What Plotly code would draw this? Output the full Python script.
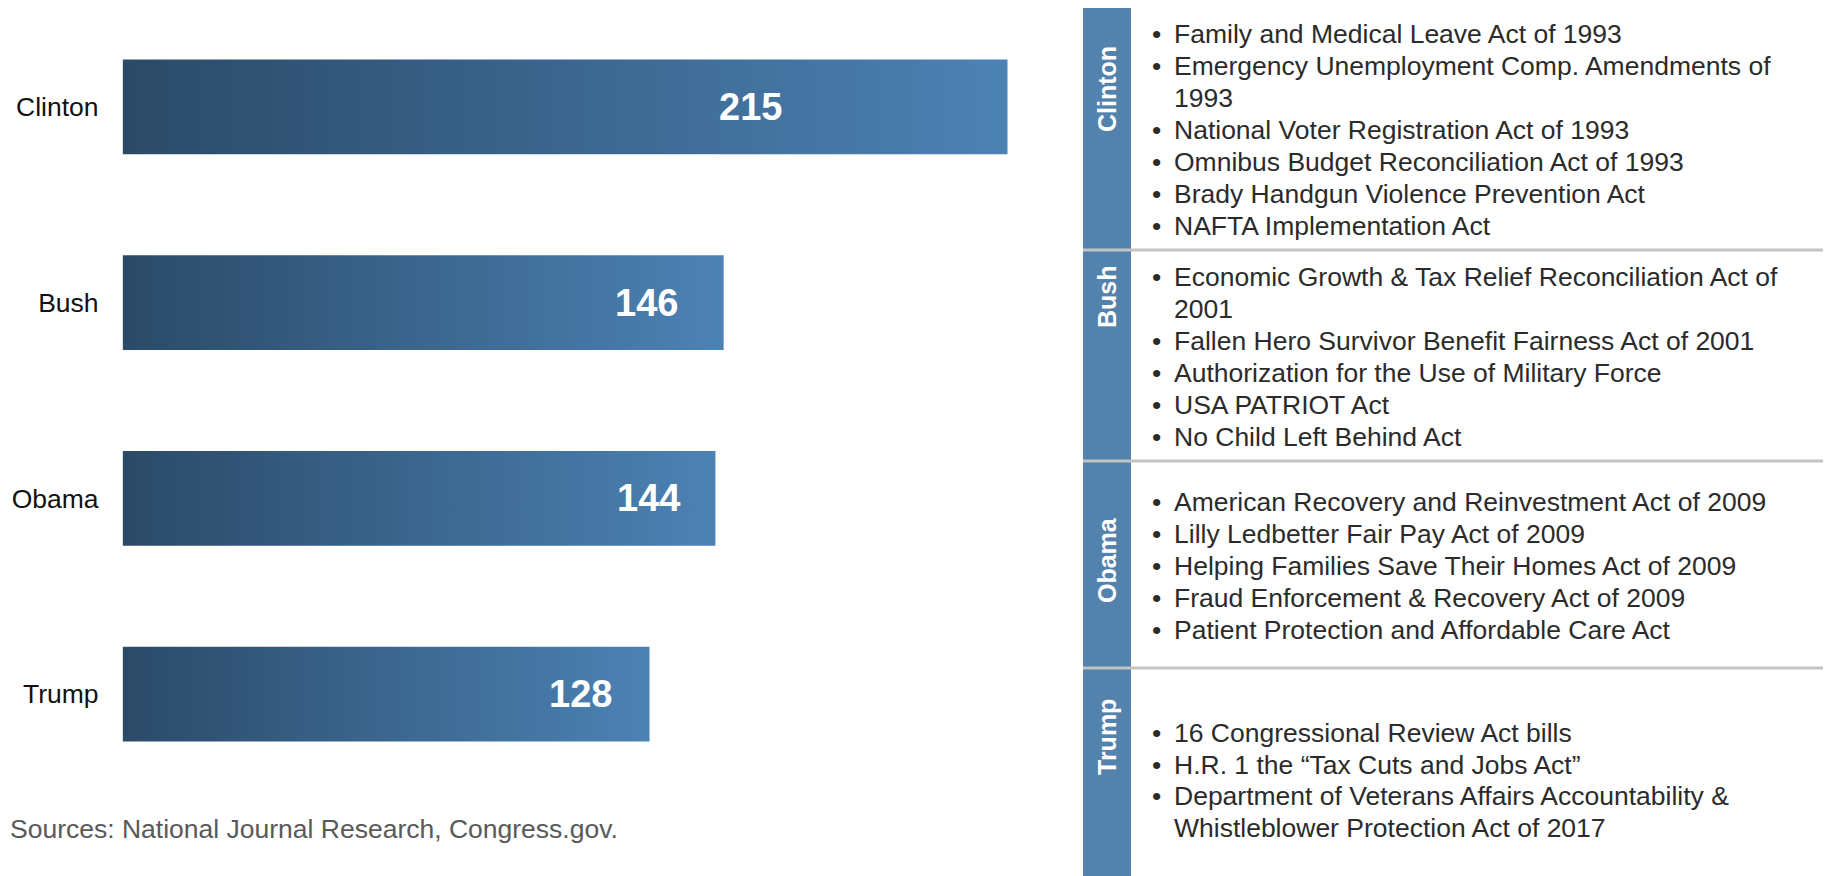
import plotly.graph_objects as go

# ---------------- data ----------------
presidents = ["Clinton", "Bush", "Obama", "Trump"]
bills_signed = [215, 146, 144, 128]
notable_acts = [
    ["Family and Medical Leave Act of 1993",
     "Emergency Unemployment Comp. Amendments of<br>1993",
     "National Voter Registration Act of 1993",
     "Omnibus Budget Reconciliation Act of 1993",
     "Brady Handgun Violence Prevention Act",
     "NAFTA Implementation Act"],
    ["Economic Growth & Tax Relief Reconciliation Act of<br>2001",
     "Fallen Hero Survivor Benefit Fairness Act of 2001",
     "Authorization for the Use of Military Force",
     "USA PATRIOT Act",
     "No Child Left Behind Act"],
    ["American Recovery and Reinvestment Act of 2009",
     "Lilly Ledbetter Fair Pay Act of 2009",
     "Helping Families Save Their Homes Act of 2009",
     "Fraud Enforcement & Recovery Act of 2009",
     "Patient Protection and Affordable Care Act"],
    ["16 Congressional Review Act bills",
     "H.R. 1 the \u201cTax Cuts and Jobs Act\u201d",
     "Department of Veterans Affairs Accountability &<br>Whistleblower Protection Act of 2017"],
]
source_note = "Sources: National Journal Research, Congress.gov."

# ---------------- layout / style ----------------
SCREEN_W, SCREEN_H = 1831, 876
PAGE_OFF = 8                      # default page margin around the figure
W, H = SCREEN_W - PAGE_OFF, SCREEN_H - PAGE_OFF
FONT = "Liberation Sans, Arial, Helvetica, sans-serif"
DARK, LIGHT = "#2b4a68", "#4c82b4"
SIDE = "#5382ad"
DIVIDER = "#c4c4c4"
TXT = "#2b2b2b"
BAR_HALF = 0.2416
LABEL_POS = [152.6, 127.3, 127.8, 111.3]   # value-label centres (axis units)
BLOCK_EDGES = [7, 250, 461, 668, 890]       # right-panel block bounds (screen px)
SIDE_LABEL_Y = [89, 297, 560, 737]          # rotated name centres (screen px)
LINE_STEP = 31.9
SIDE_X0, SIDE_X1 = 1083, 1131
BULLET_X, TEXT_X = 1156, 1172


def px(x):
    return (x - PAGE_OFF) / W


def py(y):
    return 1 - (y - PAGE_OFF) / H


fig = go.Figure()

for i, (name, v) in enumerate(zip(presidents, bills_signed)):
    fig.add_trace(go.Scatter(
        x=[0, v, v, 0, 0],
        y=[i - BAR_HALF, i - BAR_HALF, i + BAR_HALF, i + BAR_HALF, i - BAR_HALF],
        mode="lines", fill="toself",
        fillgradient=dict(type="horizontal", colorscale=[[0, DARK], [1, LIGHT]]),
        line=dict(width=0, color="rgba(0,0,0,0)"),
        hoveron="fills", name=name, text=f"{name}: {v}", hoverinfo="text",
        showlegend=False,
    ))

annotations = []
for i, v in enumerate(bills_signed):
    annotations.append(dict(
        x=LABEL_POS[i], y=i, xref="x", yref="y", text=f"<b>{v}</b>",
        showarrow=False, xanchor="center", yanchor="middle",
        font=dict(family=FONT, size=38, color="white"),
    ))

shapes = [dict(type="rect", xref="paper", yref="paper",
               x0=px(SIDE_X0), x1=px(SIDE_X1), y0=py(SCREEN_H + 30), y1=py(BLOCK_EDGES[0]),
               fillcolor=SIDE, line=dict(width=0), layer="below")]
for e in BLOCK_EDGES[1:-1]:
    shapes.append(dict(type="line", xref="paper", yref="paper",
                       x0=px(SIDE_X0), x1=1.01, y0=py(e), y1=py(e),
                       line=dict(color=DIVIDER, width=3)))

for b, (name, items) in enumerate(zip(presidents, notable_acts)):
    annotations.append(dict(
        x=px((SIDE_X0 + SIDE_X1) / 2), y=py(SIDE_LABEL_Y[b]), xref="paper", yref="paper",
        text=f"<b>{name}</b>", textangle=-90, showarrow=False,
        xanchor="center", yanchor="middle",
        font=dict(family=FONT, size=25, color="white"),
    ))
    lines = []
    for it in items:
        parts = it.split("<br>")
        for k, p in enumerate(parts):
            lines.append((k == 0, p))
    n = len(lines)
    center = (BLOCK_EDGES[b] + BLOCK_EDGES[b + 1]) / 2 + 1.5
    y0 = center - (n - 1) / 2 * LINE_STEP
    for k, (first, t) in enumerate(lines):
        yy = y0 + k * LINE_STEP
        if first:
            annotations.append(dict(
                x=px(BULLET_X), y=py(yy), xref="paper", yref="paper", text="\u2022",
                showarrow=False, xanchor="center", yanchor="middle",
                font=dict(family=FONT, size=26.5, color=TXT)))
        annotations.append(dict(
            x=px(TEXT_X), y=py(yy), xref="paper", yref="paper", text=t,
            showarrow=False, xanchor="left", yanchor="middle",
            font=dict(family=FONT, size=26.5, color=TXT)))

annotations.append(dict(
    x=px(PAGE_OFF), y=py(829), xref="paper", yref="paper", text=source_note,
    showarrow=False, xanchor="left", yanchor="middle",
    font=dict(family=FONT, size=26.5, color="#595959")))

fig.update_layout(
    width=W, height=H,
    margin=dict(l=0, r=0, t=0, b=0),
    paper_bgcolor="white", plot_bgcolor="white",
    xaxis=dict(domain=[px(122.6), px(1007.7)], range=[0, max(bills_signed)],
               visible=False, fixedrange=True),
    yaxis=dict(domain=[py(792), py(9)], range=[3.5, -0.5],
               tickvals=list(range(len(presidents))), ticktext=presidents,
               showgrid=False, zeroline=False, showline=False, ticks="",
               ticklabelstandoff=23, automargin=False,
               tickfont=dict(family=FONT, size=26.5, color="#111111"),
               fixedrange=True),
    shapes=shapes, annotations=annotations,
    showlegend=False,
)

fig.write_html("out.html")
